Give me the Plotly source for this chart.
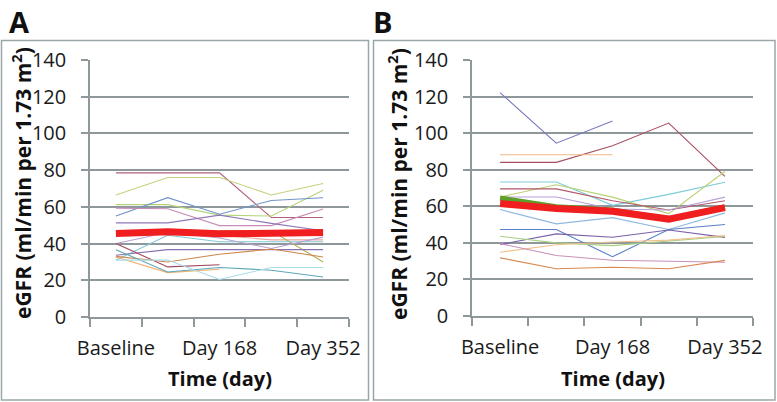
import plotly.graph_objects as go

# ---- data ----
categories = [1, 2, 3, 4, 5]
tick_positions = [1, 3, 5]
tick_labels = ["Baseline", "Day 168", "Day 352"]

# Panel A: individual patients (None = missing)
a_series = [
    ([78.5, 78.5, 78.5, 54.2, 54.2], "#B0607E"),
    ([66.5, 76.0, 76.0, 66.5, 72.7], "#C2D27E"),
    ([61.2, 61.2, 55.5, 55.0, 69.0], "#B5D47A"),
    ([55.0, 65.0, 56.0, 63.5, 65.0], "#6F94C8"),
    ([59.3, 59.0, 49.8, 49.8, 58.8], "#C88CB8"),
    ([51.3, 51.3, 55.5, 51.0, 47.0], "#9078B8"),
    ([None, 45.0, 44.5, 42.0, 42.0], "#E8A8A0"),
    ([None, None, 47.0, 47.0, 30.0], "#B0B050"),
    ([31.0, 44.5, 41.0, 41.0, 41.0], "#80C8D8"),
    ([40.0, 46.0, 43.0, 37.3, 43.5], "#B8A0D0"),
    ([33.6, 36.7, 36.7, 36.7, 36.7], "#8A70B0"),
    ([40.0, 27.3, 28.5, None, None], "#A04860"),
    ([32.7, 24.2, 26.0, None, None], "#F0B070"),
    ([33.0, 30.0, 34.2, 37.0, 32.7], "#D08A50"),
    ([36.7, 24.5, 27.0, 25.5, 21.8], "#5EA8B8"),
    ([31.0, 31.0, 20.4, 27.0, 27.0], "#A8DCE8"),
]
a_mean = [45.5, 46.5, 45.3, 45.6, 46.0]

# Panel B: individual patients
b_series = [
    ([122.2, 94.5, 106.7, None, None], "#7878C0"),
    ([84.0, 84.0, 93.1, 105.5, 76.4], "#A85060"),
    ([88.2, 88.2, 88.2, None, None], "#F0B880"),
    ([73.3, 73.3, 60.5, 66.5, 73.1], "#7CCCD8"),
    ([65.1, 71.8, 65.0, 56.0, 79.0], "#B8D070"),
    ([69.5, 69.5, 63.0, 58.0, 63.0], "#B05868"),
    ([65.1, 65.1, 58.5, 58.0, 65.0], "#B8A0D8"),
    ([58.2, 50.4, 53.8, 47.3, 56.4], "#90B8E0"),
    ([47.3, 47.3, 32.4, 47.3, 50.0], "#5880C8"),
    ([39.1, 44.9, 43.1, 47.0, 43.0], "#7860A8"),
    ([43.6, 40.0, 38.5, 41.0, 43.5], "#A8D080"),
    ([34.9, 39.0, 40.5, 41.5, 44.0], "#F0C090"),
    ([39.6, 33.1, 30.5, 30.0, 29.4], "#C890B8"),
    ([31.8, 25.8, 26.7, 25.8, 30.4], "#D88850"),
]
b_green = [64.5, 59.8, 58.0, 53.0, 59.6]
b_mean = [61.5, 58.8, 57.3, 53.0, 59.3]

# ---- figure ----
W, H = 777, 402
GRID = "#8E979A"
BORDER = "#9BA6A9"
FONT = "Open Sans"

fig = go.Figure()

for vals, col in a_series:
    fig.add_trace(go.Scatter(x=categories, y=vals, mode="lines",
                             line=dict(color=col, width=1.1),
                             xaxis="x", yaxis="y", showlegend=False))
fig.add_trace(go.Scatter(x=categories, y=a_mean, mode="lines",
                         line=dict(color="#F01E1E", width=7),
                         xaxis="x", yaxis="y", showlegend=False))

for vals, col in b_series:
    fig.add_trace(go.Scatter(x=categories, y=vals, mode="lines",
                             line=dict(color=col, width=1.1),
                             xaxis="x2", yaxis="y2", showlegend=False))
fig.add_trace(go.Scatter(x=categories, y=b_green, mode="lines",
                         line=dict(color="#5E9E2A", width=5),
                         xaxis="x2", yaxis="y2", showlegend=False))
fig.add_trace(go.Scatter(x=categories, y=b_mean, mode="lines",
                         line=dict(color="#F01E1E", width=7),
                         xaxis="x2", yaxis="y2", showlegend=False))


def px_x(p):
    return p / W


def px_y(p):
    return 1 - p / H


def xax(x0, x1, anchor):
    return dict(domain=[px_x(x0), px_x(x1)], range=[0.5, 5.5], anchor=anchor,
                tickmode="array", tickvals=tick_positions, ticktext=tick_labels,
                ticks="", showgrid=False, zeroline=False, automargin=False,
                showline=True, linecolor=GRID, linewidth=1.5,
                tickfont=dict(family=FONT, size=20, color="#1A1A1A"),
                ticklabelstandoff=12,
                minor=dict(tickmode="array", tickvals=[0.5, 1.5, 2.5, 3.5, 4.5, 5.5],
                           ticks="outside", ticklen=8, tickwidth=1.5,
                           tickcolor=GRID, showgrid=False),
                fixedrange=True)


def yax(y0, y1, anchor):
    return dict(domain=[px_y(y1), px_y(y0)], range=[0, 140], anchor=anchor,
                tickmode="linear", tick0=0, dtick=20, automargin=False,
                ticks="outside", ticklen=7, tickwidth=1.5, tickcolor=GRID,
                showgrid=True, gridcolor=GRID, gridwidth=1.5, zeroline=False,
                showline=True, linecolor=GRID, linewidth=1.5,
                tickfont=dict(family=FONT, size=20, color="#1A1A1A"),
                ticklabelstandoff=11, fixedrange=True)


fig.update_layout(
    width=W, height=H, margin=dict(l=0, r=0, t=0, b=0, autoexpand=False),
    paper_bgcolor="white", plot_bgcolor="white",
    xaxis=xax(90, 349, "y"), yaxis=yax(60, 317, "x"),
    xaxis2=xax(472, 753, "y2"), yaxis2=yax(60, 316, "x2"),
    shapes=[
        dict(type="rect", xref="paper", yref="paper",
             x0=px_x(1.5), x1=px_x(368.5), y0=px_y(400), y1=px_y(40.5),
             line=dict(color=BORDER, width=1.5), layer="below"),
        dict(type="rect", xref="paper", yref="paper",
             x0=px_x(373.5), x1=px_x(775), y0=px_y(400), y1=px_y(40.5),
             line=dict(color=BORDER, width=1.5), layer="below"),
    ],
    annotations=[
        dict(text="<b>A</b>", x=px_x(7), y=1, xref="paper", yref="paper",
             xanchor="left", yanchor="top", showarrow=False,
             font=dict(family=FONT, size=29, color="#111")),
        dict(text="<b>B</b>", x=px_x(371), y=1, xref="paper", yref="paper",
             xanchor="left", yanchor="top", showarrow=False,
             font=dict(family=FONT, size=29, color="#111")),
        dict(text="<b>eGFR (ml/min per 1.73 m<sup>2</sup>)</b>", x=px_x(21), y=px_y(183),
             xref="paper", yref="paper", xanchor="center", yanchor="middle",
             textangle=-90, showarrow=False,
             font=dict(family=FONT, size=21, color="#111")),
        dict(text="<b>eGFR (ml/min per 1.73 m<sup>2</sup>)</b>", x=px_x(397), y=px_y(184),
             xref="paper", yref="paper", xanchor="center", yanchor="middle",
             textangle=-90, showarrow=False,
             font=dict(family=FONT, size=21, color="#111")),
        dict(text="<b>Time (day)</b>", x=px_x(220), y=px_y(378),
             xref="paper", yref="paper", xanchor="center", yanchor="middle",
             showarrow=False, font=dict(family=FONT, size=20, color="#111")),
        dict(text="<b>Time (day)</b>", x=px_x(613), y=px_y(378),
             xref="paper", yref="paper", xanchor="center", yanchor="middle",
             showarrow=False, font=dict(family=FONT, size=20, color="#111")),
    ],
)

fig.write_html("out.html", config={"displayModeBar": False},
               post_script="document.body.style.margin='0';")
